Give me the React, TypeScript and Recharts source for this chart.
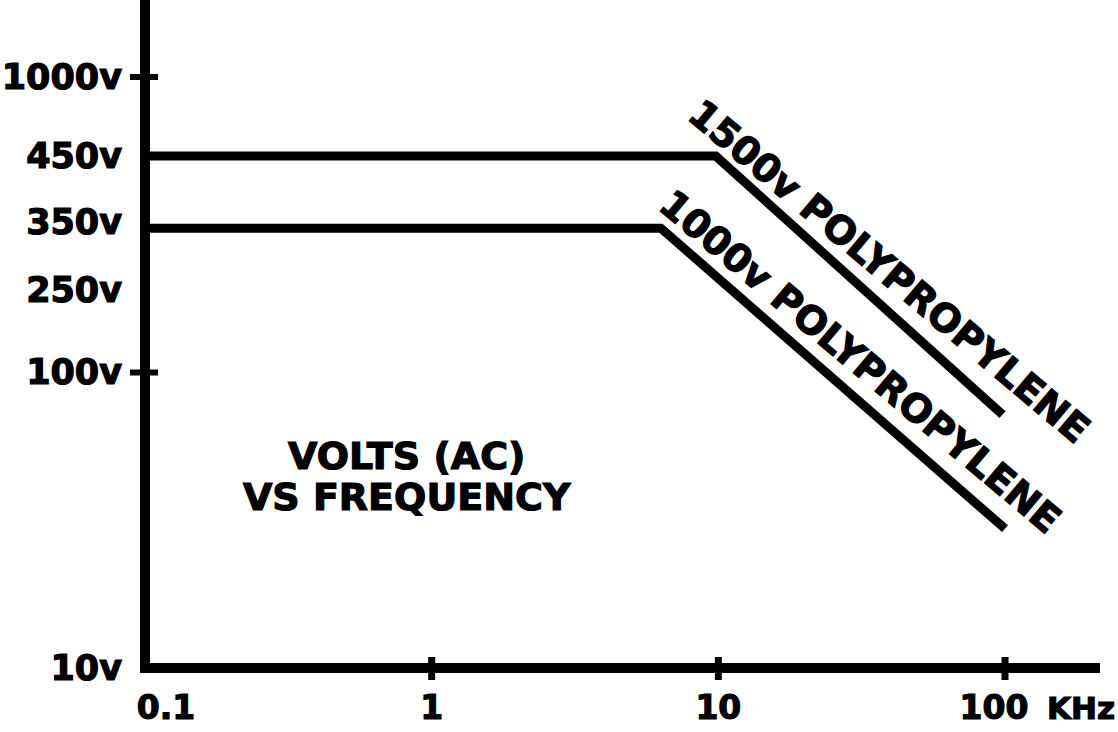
import React from 'react';
import { LineChart, Line, XAxis, YAxis, ReferenceDot } from 'recharts';

// frequency in KHz, volts AC
const series1500 = [
  { f: 0.1, v: 540 },
  { f: 9.8, v: 540 },
  { f: 98, v: 72 },
];
const series1000 = [
  { f: 0.1, v: 308 },
  { f: 6.3, v: 308 },
  { f: 100, v: 29.6 },
];

const freqTicks = [0.1, 1, 10, 100];
const freqTickLabels = ['0.1', '1', '10', '100'];
const freqTickMarked = [false, true, true, true];

const voltTicks = [10, 100, 190, 322, 540, 1000];
const voltTickLabels = ['10v', '100v', '250v', '350v', '450v', '1000v'];
const voltTickMarked = [false, true, false, false, false, true];

const curveLabels = [
  { f: 39.5, v: 220, text: '1500v POLYPROPYLENE' },
  { f: 31.3, v: 109, text: '1000v POLYPROPYLENE' },
];
const titleLines = ['VOLTS (AC)', 'VS FREQUENCY'];
const titlePos = { f: 0.818, v: 44.7 };
const unitLabel = 'KHz';

const FONT = '"DejaVu Sans", sans-serif';
// the scan's lettering is heavier than DejaVu Bold, so give it a thin outline
const heavy = { fontFamily: FONT, fontWeight: 'bold', fill: '#000', stroke: '#000', strokeWidth: 1.2 };

function VoltTick(props: any) {
  const { x, y, payload } = props;
  const i = voltTicks.indexOf(payload.value);
  return (
    <g>
      {voltTickMarked[i] && (
        <line x1={x - 15} x2={x + 13} y1={y} y2={y} stroke="#000" strokeWidth={6} />
      )}
      <text x={x - 23} y={y} textAnchor="end" dominantBaseline="central" fontSize={35} {...heavy}>
        {voltTickLabels[i]}
      </text>
    </g>
  );
}

function FreqTick(props: any) {
  const { x, y, payload } = props;
  const i = freqTicks.indexOf(payload.value);
  const last = i === freqTicks.length - 1;
  const dx = i === 0 ? 21 : last ? -11 : 0;
  return (
    <g>
      {freqTickMarked[i] && (
        <line x1={x} x2={x} y1={y - 11} y2={y + 12} stroke="#000" strokeWidth={7} />
      )}
      <text x={x + dx} y={y + 51} textAnchor="middle" fontSize={33} {...heavy}>
        {freqTickLabels[i]}
      </text>
      {last && (
        <text x={x + 42} y={y + 51} fontSize={31} {...heavy}>
          {unitLabel}
        </text>
      )}
    </g>
  );
}

export default function App() {
  return (
    <div style={{ position: 'absolute', left: 0, top: 0, background: '#fff' }}>
      <LineChart width={1118} height={732} margin={{ top: 3, right: 23, left: 0, bottom: 0 }}>
        <XAxis
          dataKey="f"
          type="number"
          scale="log"
          domain={[0.1, 206]}
          allowDataOverflow
          ticks={freqTicks}
          tick={<FreqTick />}
          tickLine={false}
          tickSize={0}
          tickMargin={0}
          height={64}
          axisLine={{ stroke: '#000', strokeWidth: 10, strokeLinecap: 'square' }}
        />
        <YAxis
          dataKey="v"
          type="number"
          scale="log"
          domain={[10, 1780]}
          allowDataOverflow
          ticks={voltTicks}
          tick={<VoltTick />}
          tickLine={false}
          tickSize={0}
          tickMargin={0}
          width={145}
          axisLine={{ stroke: '#000', strokeWidth: 10, strokeLinecap: 'square' }}
        />
        <Line
          data={series1500}
          dataKey="v"
          type="linear"
          stroke="#000"
          strokeWidth={9}
          dot={false}
          isAnimationActive={false}
        />
        <Line
          data={series1000}
          dataKey="v"
          type="linear"
          stroke="#000"
          strokeWidth={9}
          dot={false}
          isAnimationActive={false}
        />
        {curveLabels.map((c) => (
          <ReferenceDot
            key={c.text}
            x={c.f}
            y={c.v}
            r={1}
            shape={(p: any) => (
              <text
                x={p.cx}
                y={p.cy}
                transform={`rotate(40 ${p.cx} ${p.cy})`}
                textAnchor="middle"
                dominantBaseline="central"
                fontSize={38.5}
                {...heavy}
              >
                {c.text}
              </text>
            )}
          />
        ))}
        <ReferenceDot
          x={titlePos.f}
          y={titlePos.v}
          r={1}
          shape={(p: any) => (
            <g>
              {titleLines.map((t, i) => (
                <text
                  key={t}
                  x={p.cx}
                  y={p.cy + (i === 0 ? -20 : 21)}
                  textAnchor="middle"
                  dominantBaseline="central"
                  fontSize={38}
                  {...heavy}
                >
                  {t}
                </text>
              ))}
            </g>
          )}
        />
      </LineChart>
    </div>
  );
}
